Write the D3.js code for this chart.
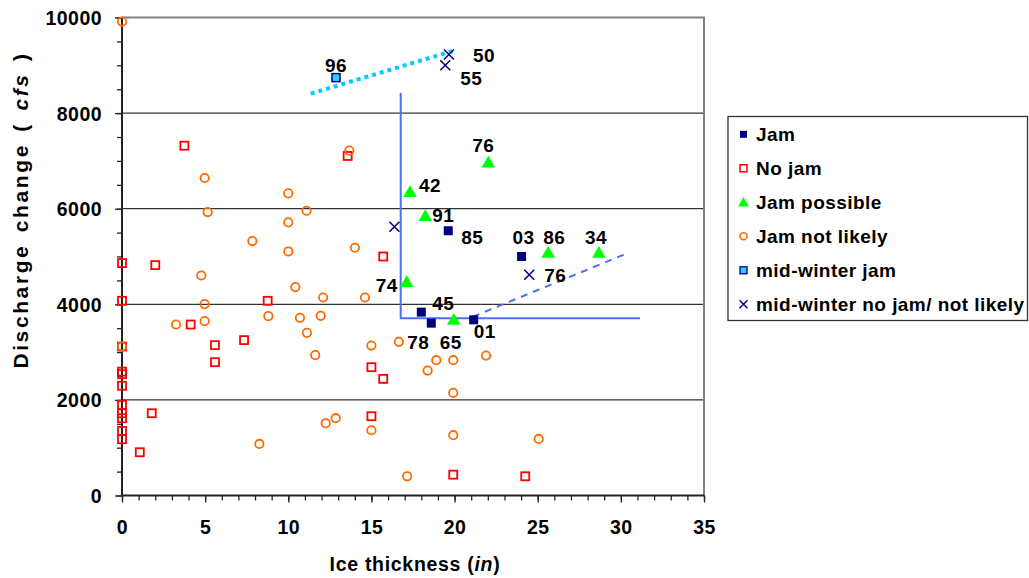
<!DOCTYPE html>
<html><head><meta charset="utf-8">
<script src="https://cdn.jsdelivr.net/npm/d3@7/dist/d3.min.js"></script>
<style>
body{margin:0;background:#fff;}
text{font-family:"Liberation Sans",Arial,sans-serif;font-weight:bold;fill:#000;}
</style></head>
<body><svg id="c" width="1029" height="578"></svg>
<script>
// ---- data ----
const xTicks = [0,5,10,15,20,25,30,35];
const yTicks = [0,2000,4000,6000,8000,10000];
const jam = [[19.62,5539],[24.03,5000],[18.0,3836],[18.6,3606],[21.15,3675]];
const noJam = [[3.75,7318],[13.57,7103],[15.71,5000],[0,4862],[0,4073],[0,3116],[0,2592],[0,2538],[0,2296],
  [0,1895],[0,1721],[0,1617],[0,1351],[0,1177],[2.0,4820],[4.13,3577],[5.59,3145],[5.59,2789],[7.34,3250],
  [8.76,4073],[1.79,1721],[1.07,905],[15.0,2684],[15.71,2440],[15.0,1658],[19.92,436],[24.25,402]];
const jamPossible = [[17.32,6328],[18.24,5825],[22.03,6942],[25.63,5057],[28.68,5057],[17.12,4443],[19.95,3654]];
const jamNotLikely = [[0,9915],[4.97,6642],[5.15,5930],[10.0,6320],[10.0,5713],[11.1,5957],[7.84,5323],[10.0,5105],
  [13.67,7214],[14.01,5183],[4.77,4603],[4.97,4004],[4.97,3648],[3.25,3577],[8.8,3752],[10.42,4360],[10.7,3717],
  [11.12,3403],[11.62,2936],[12.1,4142],[14.61,4142],[11.95,3758],[15.0,3137],[16.65,3214],[18.9,2831],[18.38,2613],
  [19.92,2831],[21.89,2927],[19.92,2146],[12.25,1512],[12.85,1617],[15.0,1365],[19.92,1261],[17.15,402],[25.06,1183],
  [8.26,1078],[0,3116]];
const midWinterJam = [[12.87,8742]];
const midWinterNoJam = [[19.66,9224],[19.44,9000],[16.38,5622],[24.49,4617]];
const midWinterTrend = [[11.35,8407],[20.03,9314]];
const thresholdLine = [[16.76,8422],[16.76,3710],[31.15,3710]];
const jamTrend = [[21.1,3740],[30.4,5070]];
// point labels: text and the data point they belong to
const pointLabels = [["96",12.87,8742],["50",19.66,9224],["55",19.44,9000],["76",22.03,6942],["42",17.32,6328],
  ["91",18.24,5825],["85",19.62,5539],["03",24.03,5000],["86",25.63,5057],["34",28.68,5057],["76",24.49,4617],
  ["74",17.12,4443],["45",18.0,3836],["78",18.6,3606],["65",19.95,3654],["01",21.15,3675]];
const legendLabels = ["Jam","No jam","Jam possible","Jam not likely","mid-winter jam","mid-winter no jam/ not likely"];

// ---- layout ----
const labelOffsets = [[0,-6,"middle"],[24,7,"start"],[15,20,"start"],[-5,-12,"middle"],[9,-1,"start"],
  [7,5,"start"],[13,13,"start"],[2,-13,"middle"],[6,-10,"middle"],[-3,-10,"middle"],[15,7,"start"],
  [-9,9,"end"],[11,-2,"start"],[-24,26,"start"],[-3,28,"middle"],[0,18,"start"]];

const svg = d3.select("#c");
const x = d3.scaleLinear().domain([0,35]).range([122,704]);
const y = d3.scaleLinear().domain([0,10000]).range([495.5,17.5]);
const LS = "0.45px";

// gridlines
svg.append("g").selectAll("line").data(yTicks.filter(v=>v>0&&v<10000)).join("line")
  .attr("x1",x(0)).attr("x2",x(35)).attr("y1",d=>y(d)).attr("y2",d=>y(d))
  .attr("stroke","#000").attr("stroke-width",1);
// top & right border
svg.append("path").attr("d",`M${x(0)},${y(10000)}H${x(35)}V${y(0)}`).attr("fill","none")
  .attr("stroke","#808080").attr("stroke-width",2);

// axes
const yMinor = d3.range(0,10001,500);
const xMinor = d3.range(0,36,1);
const gyMin = svg.append("g").attr("transform",`translate(${x(0)},0)`)
  .call(d3.axisLeft(y).tickValues(yMinor).tickSize(5).tickFormat(""));
const gy = svg.append("g").attr("transform",`translate(${x(0)},0)`)
  .call(d3.axisLeft(y).tickValues(yTicks).tickSize(7).tickPadding(13).tickFormat(d3.format("d")));
const gxMin = svg.append("g").attr("transform",`translate(0,${y(0)})`)
  .call(d3.axisBottom(x).tickValues(xMinor).tickSize(5).tickFormat(""));
const gx = svg.append("g").attr("transform",`translate(0,${y(0)})`)
  .call(d3.axisBottom(x).tickValues(xTicks).tickSize(7).tickPadding(17));
[gyMin,gy,gxMin,gx].forEach(g=>{
  g.select(".domain").attr("stroke","#222").attr("stroke-width",2);
  g.selectAll(".tick line").attr("stroke","#222").attr("stroke-width",1.3);
  g.selectAll("text").style("font-size","19.5px").style("letter-spacing",LS).attr("font-family",null);
});
gy.selectAll("text").attr("dy","0.36em");
gx.selectAll("text").attr("dy","0.72em");
gy.select(".domain").attr("d",`M0,${y(0)}V${y(10000)}`);
gx.select(".domain").attr("d",`M${x(0)},0H${x(35)}`);
gyMin.select(".domain").remove(); gxMin.select(".domain").remove();

// axis titles
const xt = svg.append("text").attr("x",415).attr("y",571).attr("text-anchor","middle")
  .style("font-size","19.5px").style("letter-spacing","0.7px");
xt.append("tspan").text("Ice thickness (");
xt.append("tspan").text("in").style("font-style","italic");
xt.append("tspan").text(")");
const yt = svg.append("text").attr("transform","translate(28,210) rotate(-90)").attr("text-anchor","middle")
  .style("font-size","21px").style("letter-spacing","2.6px").style("word-spacing","3px");
yt.append("tspan").text("Discharge change ( ");
yt.append("tspan").text("cfs").style("font-style","italic");
yt.append("tspan").text(" )");

// lines
const line = d3.line().x(d=>x(d[0])).y(d=>y(d[1]));
svg.append("path").attr("d",line(midWinterTrend)).attr("fill","none").attr("stroke","#00CCFF")
  .attr("stroke-width",4).attr("stroke-dasharray","4,4");
svg.append("path").attr("d",line(thresholdLine)).attr("fill","none").attr("stroke","#4A72F0").attr("stroke-width",2);
svg.append("path").attr("d",line(jamTrend)).attr("fill","none").attr("stroke","#4A72F0")
  .attr("stroke-width",2).attr("stroke-dasharray","7,6");

// markers
const sq = (g,data,s,fill,stroke,sw)=>g.selectAll(null).data(data).join("rect")
  .attr("x",d=>x(d[0])-s/2).attr("y",d=>y(d[1])-s/2).attr("width",s).attr("height",s)
  .attr("fill",fill).attr("stroke",stroke).attr("stroke-width",sw);
const gm = svg.append("g");
sq(gm,noJam,8,"none","#FF0000",1.8);
gm.selectAll(null).data(jamNotLikely).join("circle").attr("cx",d=>x(d[0])).attr("cy",d=>y(d[1]))
  .attr("r",4.2).attr("fill","none").attr("stroke","#FF6A00").attr("stroke-width",1.8);
sq(gm,jam,9,"#000080","none",0);
const tri = d3.symbol().type(d3.symbolTriangle).size(80);
gm.selectAll(null).data(jamPossible).join("path").attr("d",tri)
  .attr("transform",d=>`translate(${x(d[0])},${y(d[1])})`).attr("fill","#00FF00");
sq(gm,midWinterJam,8,"#33CCFF","#000080",1.5);
const cross = (g,data,s)=>g.selectAll(null).data(data).join("path")
  .attr("d",d=>{const cx=x(d[0]),cy=y(d[1]);return `M${cx-s},${cy-s}L${cx+s},${cy+s}M${cx-s},${cy+s}L${cx+s},${cy-s}`;})
  .attr("stroke","#000080").attr("stroke-width",1.5).attr("fill","none");
cross(gm,midWinterNoJam,5);

// point labels
svg.append("g").selectAll("text").data(pointLabels).join("text")
  .attr("x",(d,i)=>x(d[1])+labelOffsets[i][0]).attr("y",(d,i)=>y(d[2])+labelOffsets[i][1])
  .attr("text-anchor",(d,i)=>labelOffsets[i][2]).style("font-size","19px").style("letter-spacing",LS)
  .text(d=>d[0]);

// legend
const lg = svg.append("g");
lg.append("rect").attr("x",728).attr("y",116.5).attr("width",299.5).attr("height",204)
  .attr("fill","#fff").attr("stroke","#333").attr("stroke-width",1.3);
const ly = i=>134.3+i*34, lx=743.5;
lg.append("rect").attr("x",lx-3.5).attr("y",ly(0)-3.5).attr("width",7).attr("height",7).attr("fill","#000080");
lg.append("rect").attr("x",lx-3.5).attr("y",ly(1)-3.5).attr("width",7).attr("height",7).attr("fill","none").attr("stroke","#FF0000").attr("stroke-width",1.5);
lg.append("path").attr("d",d3.symbol().type(d3.symbolTriangle).size(50)).attr("transform",`translate(${lx},${ly(2)+1})`).attr("fill","#00FF00");
lg.append("circle").attr("cx",lx).attr("cy",ly(3)).attr("r",3.5).attr("fill","none").attr("stroke","#FF6A00").attr("stroke-width",1.5);
lg.append("rect").attr("x",lx-3.5).attr("y",ly(4)-3.5).attr("width",7).attr("height",7).attr("fill","#33CCFF").attr("stroke","#000080").attr("stroke-width",1.3);
lg.append("path").attr("d",`M${lx-4},${ly(5)-4}L${lx+4},${ly(5)+4}M${lx-4},${ly(5)+4}L${lx+4},${ly(5)-4}`).attr("stroke","#000080").attr("stroke-width",1.4);
lg.selectAll("text").data(legendLabels).join("text").attr("x",756).attr("y",(d,i)=>ly(i)+6.8)
  .style("font-size","19px").style("letter-spacing",LS).text(d=>d);
</script></body></html>
